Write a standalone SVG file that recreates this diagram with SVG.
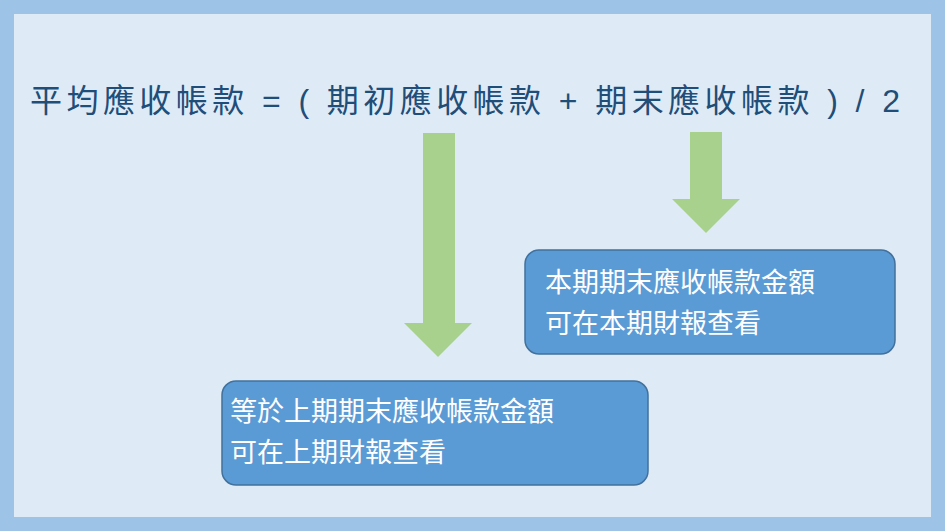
<svg xmlns="http://www.w3.org/2000/svg" width="945" height="531" viewBox="0 0 945 531">
<style>
.t{font-family:"Liberation Sans","Noto Sans CJK TC",sans-serif}
.title{font-size:32px;fill:#1F4E79}
.box{fill:#5B9BD5;stroke:#41719C;stroke-width:1.5}
.bt{font-size:27px;fill:#fff}
.arr{fill:#A9D18E}
</style>
<rect x="0" y="0" width="945" height="531" fill="#9DC3E6"/>
<rect x="14" y="14" width="917" height="503" fill="#DEEBF7"/>
<text class="t title" x="30" y="112" textLength="870" lengthAdjust="spacing">平均應收帳款 = ( 期初應收帳款 + 期末應收帳款 ) / 2</text>
<g id="connectors">
<polygon class="arr" points="423,133 455,133 455,323 472,323 438,357 404,323 423,323"/>
<polygon class="arr" points="690,132 722,132 722,199 740,199 706,233 672,199 690,199"/>
</g>
<g id="node1">
<rect class="box" x="525" y="250" width="370" height="104" rx="14"/>
<text class="t bt" x="545" y="292">本期期末應收帳款金額</text>
<text class="t bt" x="545" y="333">可在本期財報查看</text>
</g>
<g id="node2">
<rect class="box" x="222" y="381" width="426" height="104" rx="14"/>
<text class="t bt" x="230" y="421">等於上期期末應收帳款金額</text>
<text class="t bt" x="230" y="462">可在上期財報查看</text>
</g>
</svg>
